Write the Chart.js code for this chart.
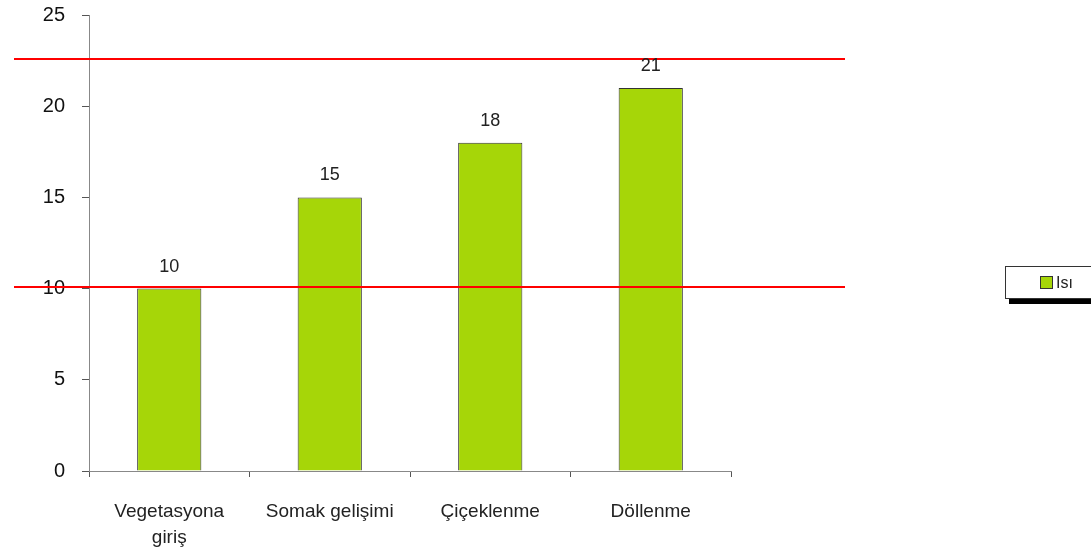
<!DOCTYPE html>
<html>
<head>
<meta charset="utf-8">
<script src="https://cdn.jsdelivr.net/npm/chart.js@4/dist/chart.umd.min.js"></script>
<style>
  html, body { margin: 0; padding: 0; background: #fff; }
  #wrap { position: relative; width: 1091px; height: 552px; }
  #legend {
    position: absolute; left: 1005px; top: 266px; width: 100px; height: 33px;
    border: 1px solid #333; background: #fff; box-shadow: 4px 5px 0 #000;
    font: 16px "Liberation Sans", Arial, sans-serif; color: #222;
    display: flex; align-items: center; padding-left: 34px; box-sizing: border-box;
  }
  #legend span.sw { width: 11px; height: 11px; background: #a6d608; border: 1px solid #333; margin-right: 3px; }
</style>
</head>
<body>
<div id="wrap">
  <canvas id="c" width="1091" height="552"></canvas>
  <div id="legend"><span class="sw"></span>Isı</div>
</div>
<script>
var categories = [['Vegetasyona', 'giriş'], 'Somak gelişimi', 'Çiçeklenme', 'Döllenme'];
var values = [10, 15, 18, 21];
var yTicks = [0, 5, 10, 15, 20, 25];
var refLines = [10.1, 22.6];

var FONT = '"Liberation Sans", Arial, sans-serif';

// red reference lines, wider than the plot area
var refLinePlugin = {
  id: 'refLines',
  afterDatasetsDraw: function(chart) {
    var ctx = chart.ctx, y = chart.scales.y;
    ctx.save();
    ctx.strokeStyle = '#ff0000';
    ctx.lineWidth = 2;
    refLines.forEach(function(v) {
      var py = Math.round(y.getPixelForValue(v));
      ctx.beginPath();
      ctx.moveTo(14, py);
      ctx.lineTo(845, py);
      ctx.stroke();
    });
    ctx.restore();
  }
};

var valueLabelPlugin = {
  id: 'valueLabels',
  afterDatasetsDraw: function(chart) {
    var ctx = chart.ctx;
    var meta = chart.getDatasetMeta(0);
    ctx.save();
    ctx.font = '18px ' + FONT;
    ctx.fillStyle = '#222';
    ctx.textAlign = 'center';
    ctx.textBaseline = 'bottom';
    meta.data.forEach(function(bar, i) {
      ctx.fillText(String(values[i]), bar.x, bar.y - 13);
    });
    ctx.restore();
  }
};

new Chart(document.getElementById('c'), {
  type: 'bar',
  data: {
    labels: categories,
    datasets: [{
      label: 'Isı',
      data: values,
      backgroundColor: '#a6d608',
      borderColor: '#333',
      borderWidth: 1,
      categoryPercentage: 1,
      barPercentage: 0.4
    }]
  },
  options: {
    responsive: false,
    animation: false,
    layout: { padding: { top: 15, right: 360, left: 0, bottom: 0 } },
    plugins: { legend: { display: false }, tooltip: { enabled: false } },
    scales: {
      y: {
        min: 0, max: 25,
        afterBuildTicks: function(s) { s.ticks = yTicks.map(function(v) { return { value: v }; }); },
        afterFit: function(s) { s.width = 89; s.paddingTop = 0; s.paddingBottom = 0; },
        border: { color: '#888', width: 1 },
        grid: { drawOnChartArea: false, drawTicks: true, tickLength: 7, color: '#555' },
        ticks: { font: { size: 20, family: FONT }, color: '#111', padding: 17 }
      },
      x: {
        afterFit: function(s) { s.height = 81; s.paddingLeft = 0; s.paddingRight = 0; },
        border: { color: '#888', width: 1 },
        grid: { offset: true, drawOnChartArea: false, drawTicks: true, tickLength: 6, color: '#555' },
        ticks: { font: { size: 19, family: FONT, lineHeight: 1.35 }, color: '#222', padding: 22, maxRotation: 0 }
      }
    }
  },
  plugins: [refLinePlugin, valueLabelPlugin]
});
</script>
</body>
</html>
